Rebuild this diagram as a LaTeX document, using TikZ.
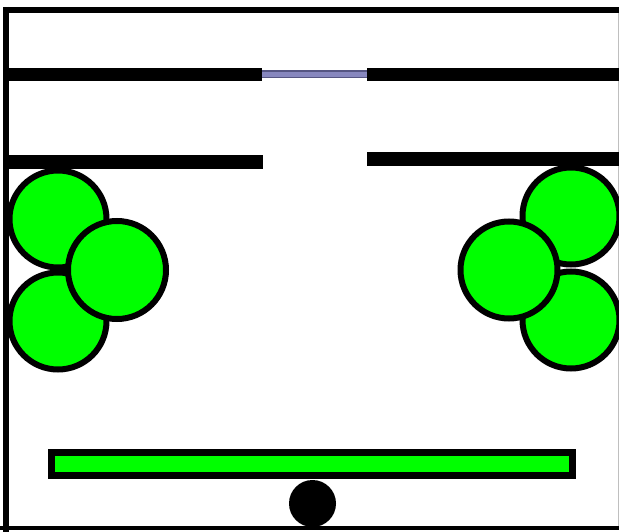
\documentclass[tikz,border=0pt]{standalone}
\begin{document}
\begin{tikzpicture}[x=1pt,y=-1pt,
  wall/.style={line width=6pt,black},
  shelf/.style={line width=13pt,black},
  ballstyle/.style={draw=black,line width=6pt,fill=green},
  barstyle/.style={draw=black,line width=7pt,fill=green}]
\useasboundingbox (0,0) rectangle (619,532);
\fill[white] (0,0) rectangle (619,532);
\begin{scope}
\clip (0,0) rectangle (619,532);
% frame
\draw[wall] (6,10) -- (619,10);
\draw[wall] (6,7) -- (6,532);
\draw[line width=4.5pt] (0,528) -- (619,528);
\draw[line width=1pt,gray!50] (618.5,13) -- (618.5,526);
% upper shelves with blue window
\draw[line width=8pt,color={rgb,255:red,85;green,85;blue,130}] (262,74.5) -- (367,74.5);
\draw[line width=4.5pt,color={rgb,255:red,135;green,135;blue,190}] (262,74.5) -- (367,74.5);
\draw[shelf] (3,74.5) -- (262,74.5);
\draw[shelf] (367,74.5) -- (619,74.5);
% lower shelves
\draw[line width=14pt] (3,162) -- (263,162);
\draw[line width=14pt] (367,159) -- (619,159);
% left circles
\draw[ballstyle] (58,219) circle (48.5);
\draw[ballstyle] (58,321) circle (48.5);
\draw[ballstyle] (117,270) circle (49);
% right circles
\draw[ballstyle] (571,216) circle (48.5);
\draw[ballstyle] (571,320) circle (48.5);
\draw[ballstyle] (509,270) circle (48.5);
% bottom bar and ball
\draw[barstyle] (51.5,452.5) rectangle (572.5,475.5);
\fill[black] (312.5,503.5) circle (23.5);
\end{scope}
\end{tikzpicture}
\end{document}
